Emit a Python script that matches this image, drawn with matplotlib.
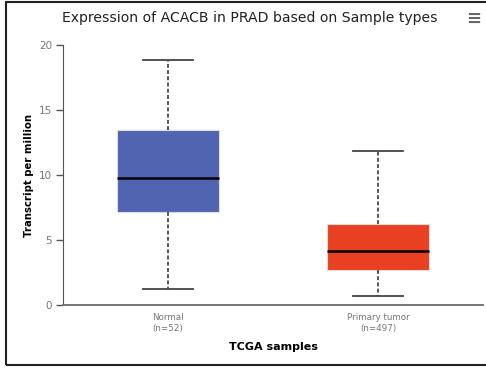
import matplotlib
matplotlib.use("Agg")
import matplotlib.pyplot as plt
from matplotlib.patches import Rectangle

# Box summary statistics (Transcript per million)
categories = ["Normal", "Primary tumor"]
sample_counts = [52, 497]
whisker_low = [1.23, 0.72]
q1 = [7.13, 2.69]
median = [9.77, 4.18]
q3 = [13.46, 6.20]
whisker_high = [18.82, 11.85]
box_colors = ["#5064B1", "#E84021"]

W, H = 486, 369
fig = plt.figure(figsize=(W / 100, H / 100), dpi=100)
ax = fig.add_axes([63 / W, 1 - 305 / H, (483 - 63) / W, (305 - 45) / H])

stats = []
for i, name in enumerate(categories):
    stats.append(dict(label=name, whislo=whisker_low[i], q1=q1[i], med=median[i],
                      q3=q3[i], whishi=whisker_high[i], fliers=[]))

bp = ax.bxp(stats, positions=range(len(categories)), widths=0.49,
            patch_artist=True, showfliers=False, capwidths=0.24,
            boxprops=dict(linewidth=0.8, edgecolor="#dddddd"),
            medianprops=dict(color="black", linewidth=1.8),
            whiskerprops=dict(color="#555555", linewidth=1.4, linestyle=(0, (2, 1.2))),
            capprops=dict(color="#444444", linewidth=1.3))
for patch, c in zip(bp["boxes"], box_colors):
    patch.set_facecolor(c)

ax.set_xlim(-0.5, 1.5)
ax.set_ylim(0, 20)
ax.set_yticks([0, 5, 10, 15, 20])
ax.set_xticks(range(len(categories)))
ax.set_xticklabels([f"{c}\n(n={n})" for c, n in zip(categories, sample_counts)],
                   fontsize=6.3, color="#777777", linespacing=1.2)
ax.tick_params(axis="x", length=0, pad=6)
ax.tick_params(axis="y", length=5, width=1, color="#555555", labelsize=7.5,
               labelcolor="#777777", pad=3)
for s in ["top", "right"]:
    ax.spines[s].set_visible(False)
ax.spines["left"].set_color("#555555")
ax.spines["bottom"].set_color("#777777")
ax.spines["bottom"].set_linewidth(1.4)

ax.set_ylabel("Transcript per million", fontsize=7.3, fontweight="bold")
ax.yaxis.set_label_coords(-0.068, 0.5)
ax.set_xlabel("TCGA samples", fontsize=8, fontweight="bold", labelpad=7)

fig.text(250 / W, 1 - 18 / H, "Expression of ACACB in PRAD based on Sample types",
         ha="center", va="center", fontsize=10.1, color="#222222")
fig.text(474 / W, 1 - 19 / H, "\u2261", ha="center", va="center", fontsize=13,
         color="#666666", fontweight="bold")

# Outer frame
fig.patches.append(Rectangle((6 / W, 1 - 365 / H), 1.2, (365 - 2) / H,
                             transform=fig.transFigure, fill=False,
                             edgecolor="#222222", linewidth=1.5))

fig.savefig("out.png", dpi=100)
